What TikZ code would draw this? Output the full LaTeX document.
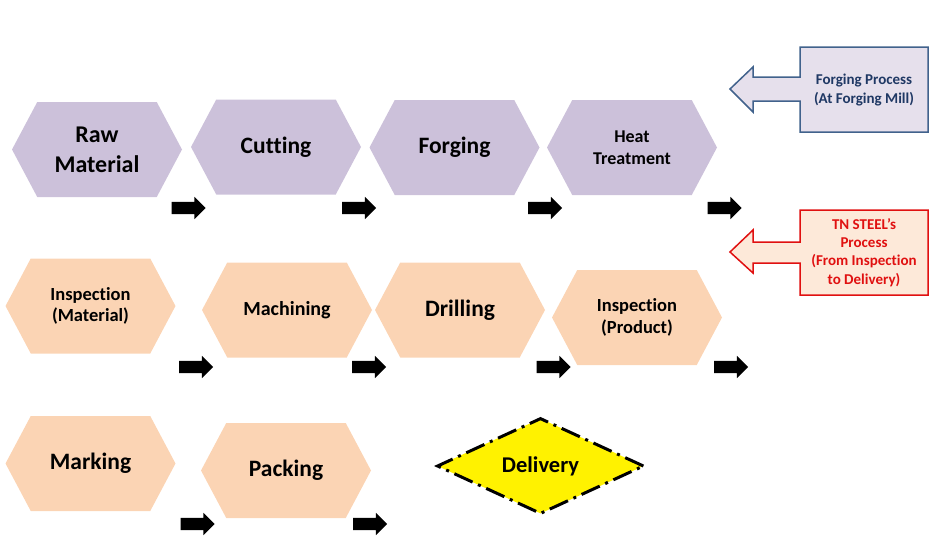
\documentclass[tikz,border=0pt]{standalone}
\usepackage{fontspec}
\setmainfont{Carlito}[Ligatures=NoCommon]
\usepackage{tikz}
\usetikzlibrary{arrows.meta,positioning,shapes.symbols,shapes.geometric,shapes.arrows}
\definecolor{lilac}{HTML}{CCC1DA}
\definecolor{peach}{HTML}{FBD4B4}
\definecolor{noteblue}{HTML}{41628C}
\definecolor{notenavy}{HTML}{1F3864}
\definecolor{notered}{HTML}{E01010}
\definecolor{notelilac}{HTML}{E6E0EC}
\definecolor{notepeach}{HTML}{FDE9D9}

\begin{document}
\begin{tikzpicture}[x=1pt,y=-1pt,
  hexa/.style={signal,signal to=west and east,signal pointer angle=124,minimum width=170pt,minimum height=95pt,inner sep=0pt,align=center},
  forgestep/.style={hexa,fill=lilac},
  tnstep/.style={hexa,fill=peach},
  blk/.style={single arrow,fill=black,inner xsep=0pt,inner ysep=6pt,minimum height=34pt,single arrow head extend=5pt,single arrow head indent=0pt},
  fbig/.style={font=\fontsize{23.5}{28}\selectfont\bfseries},
  fmid/.style={font=\fontsize{18.5}{21.5}\selectfont\bfseries}]
\useasboundingbox (0,0) rectangle (948,552);
\node[forgestep,font=\fontsize{24}{30}\selectfont\bfseries] (raw) at (97,149.5) {Raw\\Material};
\node[forgestep,fbig] (cutting) at (276,147) {Cutting};
\node[forgestep,fbig] (forging) at (454.5,147.5) {Forging};
\node[forgestep,font=\fontsize{18}{22.5}\selectfont\bfseries] (heat) at (632,147.5) {Heat\\Treatment};
\node[tnstep,fmid] (inspmat) at (90.5,306) {Inspection\\(Material)};
\node[tnstep,font=\fontsize{20}{24}\selectfont\bfseries] (machining) at (287,310) {Machining};
\node[tnstep,fbig] (drilling) at (460,310) {Drilling};
\node[tnstep,fmid] (insprod) at (637,317.5) {Inspection\\(Product)};
\node[tnstep,fbig] (marking) at (90.5,463.5) {Marking};
\node[tnstep,fbig] (packing) at (286,470.5) {Packing};
\node[diamond,aspect=2.15,minimum width=207pt,minimum height=96pt,inner sep=0pt,fill=yellow,draw=black,line width=3pt,dash pattern=on 20pt off 6pt on 3pt off 6pt,font=\fontsize{22.5}{27}\selectfont\bfseries] (delivery) at (540.5,466) {Delivery};
\foreach \x/\y [count=\i] in {185.5/208,356/208,542/208,721.5/208,193/367,366/367,550.5/367,728/367,194.5/524,367/524}
  \node[blk] (arr\i) at (\x,\y) {};
\draw[noteblue,fill=notelilac,line width=1.5pt] (800,47) -- (928,47) -- (928,132) -- (800,132) -- (800,101) -- (753,101) -- (753,112) -- (730,89) -- (753,67) -- (753,77) -- (800,77) -- cycle;
\node[align=center,text=notenavy,font=\fontsize{15}{19}\selectfont\bfseries] (forgenote) at (864,90) {Forging Process\\(At Forging Mill)};
\draw[notered,fill=notepeach,line width=1.5pt] (800,210) -- (928,210) -- (928,295) -- (800,295) -- (800,263) -- (753,263) -- (753,273) -- (730,252) -- (753,230) -- (753,242) -- (800,242) -- cycle;
\node[align=center,text=notered,font=\fontsize{15}{18.3}\selectfont\bfseries] (tnnote) at (864,252.5) {TN STEEL’s\\Process\\(From Inspection\\to Delivery)};
\end{tikzpicture}
\end{document}
